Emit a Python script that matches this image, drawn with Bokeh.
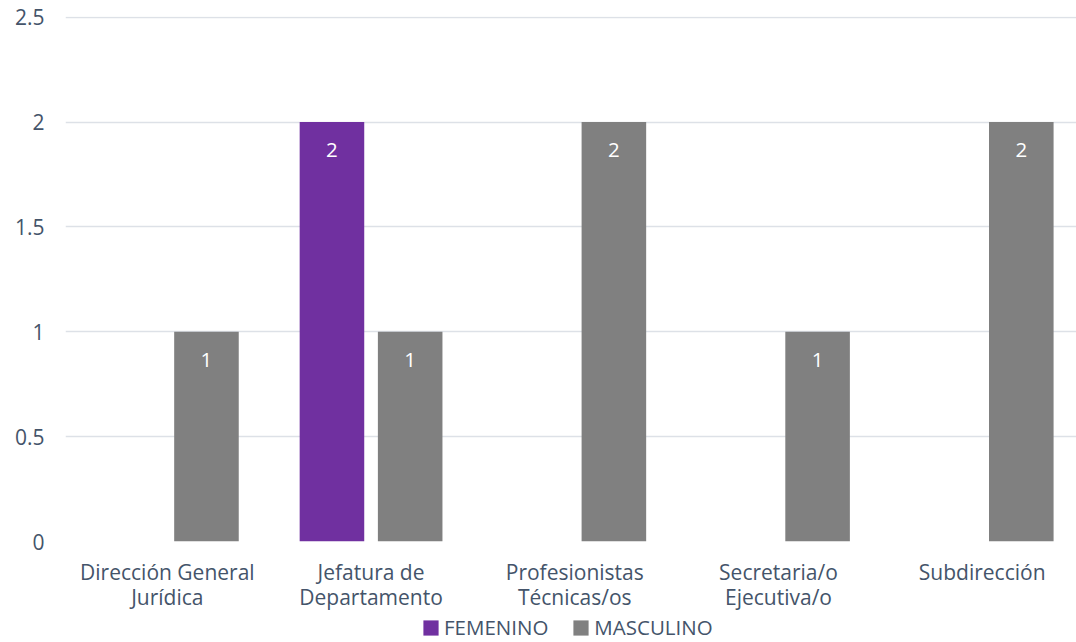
from bokeh.plotting import figure
from bokeh.layouts import column
from bokeh.models import (ColumnDataSource, Range1d, FixedTicker, Legend, LegendItem)
from bokeh.transform import dodge
from bokeh.core.properties import value
from bokeh.embed import file_html
from bokeh.resources import INLINE

categories = ["Dirección General\nJurídica", "Jefatura de\nDepartamento",
              "Profesionistas\nTécnicas/os", "Secretaria/o\nEjecutiva/o", "Subdirección"]
femenino = [None, 2, None, None, None]
masculino = [1, 1, 2, 1, 2]
series_names = ["FEMENINO", "MASCULINO"]
y_ticks = [0, 0.5, 1, 1.5, 2, 2.5]
y_tick_labels = ["0", "0.5", "1", "1.5", "2", "2.5"]

FONT = "Open Sans"
TXT = "#44546A"
PURPLE = "#7030A0"
GRAY = "#808080"

xpos = [i + 0.5 for i in range(len(categories))]
fem_lbl = ["" if v is None else str(v) for v in femenino]
mas_lbl = [str(v) for v in masculino]
fem_y = [float("nan") if v is None else v for v in femenino]

src = ColumnDataSource(dict(x=xpos, fem=fem_y, mas=masculino, fem_lbl=fem_lbl, mas_lbl=mas_lbl))

p = figure(width=1076, height=613, output_backend="svg", toolbar_location=None,
           x_range=Range1d(0, 4.963), y_range=Range1d(0, 2.5033),
           min_border_left=65, min_border_right=0, min_border_top=16, min_border_bottom=71)
p.outline_line_color = None
p.background_fill_color = "white"

off = 0.192
bw = 0.317
p.vbar(x=dodge("x", -off), top="fem", width=bw, source=src, fill_color=PURPLE, line_color=None)
p.vbar(x=dodge("x", off), top="mas", width=bw, source=src, fill_color=GRAY, line_color=None)

p.text(x=dodge("x", -off), y="fem", text="fem_lbl", source=src, text_color="white",
       text_font=value(FONT), text_font_size="20.5px", text_align="center",
       text_baseline="alphabetic", y_offset=28)
p.text(x=dodge("x", off), y="mas", text="mas_lbl", source=src, text_color="white",
       text_font=value(FONT), text_font_size="20.5px", text_align="center",
       text_baseline="alphabetic", y_offset=28)

# axes
p.xaxis.ticker = FixedTicker(ticks=xpos)
p.xaxis.major_label_overrides = {x: c for x, c in zip(xpos, categories)}
p.yaxis.ticker = FixedTicker(ticks=y_ticks)
p.yaxis.major_label_overrides = {t: l for t, l in zip(y_ticks, y_tick_labels)}
for ax in (p.xaxis[0], p.yaxis[0]):
    ax.axis_line_color = None
    ax.major_tick_line_color = None
    ax.minor_tick_line_color = None
    ax.major_label_text_font = FONT
    ax.major_label_text_font_size = "21px"
    ax.major_label_text_color = TXT
p.xaxis.major_label_standoff = 10
p.xaxis.major_label_text_line_height = 0.9
p.yaxis.major_label_standoff = 15

p.xgrid.grid_line_color = None
p.ygrid.grid_line_color = "#DDE1E7"
p.ygrid.grid_line_width = 1.3

# legend strip below the chart (frame aligned with the chart's frame)
lg = figure(width=1076, height=29, output_backend="svg", toolbar_location=None,
            x_range=Range1d(0, 1), y_range=Range1d(0, 1), x_axis_type=None, y_axis_type=None,
            min_border=0)
lg.outline_line_color = None
lg.grid.grid_line_color = None
proxy = ColumnDataSource(dict(x=[float("nan")], top=[float("nan")]))
lf = lg.vbar(x="x", top="top", width=0.1, source=proxy, fill_color=PURPLE, line_color=None)
lm = lg.vbar(x="x", top="top", width=0.1, source=proxy, fill_color=GRAY, line_color=None)
legend = Legend(items=[LegendItem(label=series_names[0], renderers=[lf]),
                       LegendItem(label=series_names[1], renderers=[lm])],
                location=(356, 1), orientation="horizontal",
                glyph_width=19, glyph_height=19, label_standoff=4, spacing=23,
                label_height=19, label_text_line_height=0.8,
                padding=0, margin=0, border_line_color=None, background_fill_alpha=0,
                label_text_font=FONT, label_text_font_size="20.5px", label_text_color=TXT)
lg.add_layout(legend, "center")

layout = column(p, lg, spacing=0)
open("out.html", "w").write(file_html(layout, INLINE))
